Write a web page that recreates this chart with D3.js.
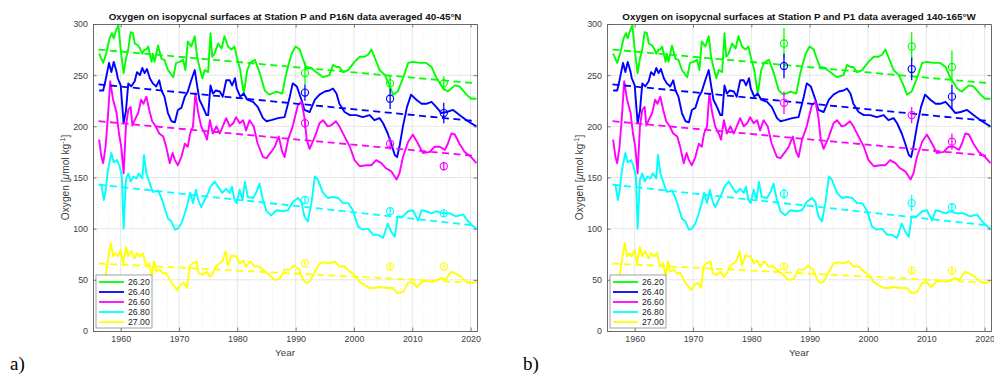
<!DOCTYPE html>
<html>
<head>
<meta charset="utf-8">
<script src="https://cdn.jsdelivr.net/npm/d3@7"></script>
<style>
  body { margin: 0; background: #fff; }
  text { font-family: "Liberation Sans", Arial, sans-serif; }
</style>
</head>
<body>
<svg id="fig" width="994" height="376"></svg>
<script>
// isopycnal surfaces (sigma-theta)
const sigmaLabels = ["26.20", "26.40", "26.60", "26.80", "27.00"];

// Station P time series, [year, oxygen umol/kg]
const o2_2620 = [[1956.3,271],[1957.0,262],[1957.5,271],[1958.1,286],[1958.5,291],[1958.8,286],[1959.1,292],[1959.6,299],[1960.0,275],[1960.5,252],[1960.9,266],[1961.3,275],[1961.7,292],[1962.1,291],[1962.4,281],[1963.0,279],[1963.4,275],[1963.7,271],[1964.1,275],[1964.4,275],[1964.7,278],[1965.3,263],[1965.5,271],[1965.8,263],[1966.4,279],[1967.0,266],[1967.5,265],[1968.1,255],[1969.0,248],[1969.5,262],[1970.1,263],[1970.7,265],[1971.1,255],[1971.5,283],[1972.1,278],[1972.7,288],[1973.1,268],[1973.5,258],[1974.0,247],[1974.4,255],[1975.0,253],[1975.4,291],[1975.7,268],[1976.1,271],[1976.7,281],[1977.3,276],[1977.8,288],[1978.4,278],[1979.0,275],[1979.5,278],[1979.9,268],[1980.5,255],[1981.1,232],[1981.7,255],[1982.2,262],[1983.0,265],[1983.8,253],[1984.7,235],[1985.5,231],[1986.7,234],[1987.7,232],[1988.4,252],[1989.3,271],[1990.0,278],[1990.7,275],[1991.3,265],[1991.8,258],[1992.7,257],[1993.5,253],[1994.7,248],[1995.8,250],[1996.4,260],[1997.0,258],[1997.5,258],[1998.1,253],[1999.0,255],[2000.1,263],[2001.0,268],[2001.8,268],[2002.4,270],[2003.0,275],[2003.5,268],[2004.4,255],[2005.3,250],[2006.1,240],[2006.7,231],[2007.5,234],[2008.4,247],[2009.3,262],[2010.1,263],[2011.3,262],[2012.4,262],[2013.3,258],[2014.1,248],[2015.3,237],[2016.1,234],[2017.3,240],[2018.1,239],[2019.3,231],[2020.1,227],[2021.0,227]];
const o2_2640 = [[1956.3,235],[1957.0,235],[1957.4,245],[1958.0,262],[1958.4,253],[1958.8,263],[1959.3,253],[1959.5,247],[1960.0,240],[1960.5,203],[1960.9,215],[1961.3,242],[1961.8,239],[1962.4,244],[1962.8,253],[1963.3,250],[1963.7,257],[1964.1,252],[1964.5,256],[1965.0,247],[1965.5,242],[1966.1,239],[1966.6,245],[1967.0,235],[1967.5,229],[1968.1,213],[1968.7,205],[1969.3,204],[1969.8,216],[1970.4,218],[1971.0,229],[1971.5,234],[1972.1,245],[1972.7,255],[1973.1,240],[1973.5,226],[1974.1,219],[1974.7,211],[1975.0,211],[1975.4,240],[1975.8,232],[1976.3,235],[1977.0,234],[1977.5,229],[1978.1,245],[1978.7,245],[1979.1,240],[1979.6,247],[1979.9,237],[1980.5,229],[1981.1,232],[1981.7,226],[1982.7,224],[1983.5,219],[1984.4,208],[1985.0,205],[1985.8,206],[1987.0,208],[1988.1,209],[1989.0,229],[1989.5,242],[1990.2,239],[1991.0,226],[1991.5,216],[1992.4,214],[1993.3,226],[1994.1,231],[1995.0,234],[1995.8,235],[1996.4,237],[1997.0,232],[1997.5,222],[1998.4,214],[1999.3,211],[2000.4,211],[2001.5,209],[2002.7,211],[2003.5,206],[2004.4,208],[2005.0,203],[2005.8,193],[2006.4,183],[2007.0,172],[2007.4,170],[2007.8,180],[2008.4,200],[2009.1,219],[2009.8,231],[2010.7,226],[2011.6,222],[2012.4,222],[2013.3,224],[2014.1,219],[2015.0,213],[2015.9,214],[2017.0,216],[2018.1,211],[2019.3,206],[2020.1,203],[2021.0,200]];
const o2_2660 = [[1956.3,187],[1956.7,170],[1957.0,164],[1957.4,180],[1957.8,209],[1958.2,244],[1958.7,226],[1959.3,213],[1959.7,193],[1960.1,180],[1960.5,154],[1960.9,200],[1961.3,216],[1961.7,219],[1962.0,201],[1962.4,206],[1963.0,213],[1963.5,226],[1963.9,222],[1964.4,229],[1964.9,216],[1965.4,205],[1966.0,200],[1966.6,193],[1967.3,190],[1967.8,180],[1968.4,164],[1968.9,174],[1969.3,167],[1969.8,162],[1970.4,170],[1971.0,183],[1971.5,180],[1971.9,193],[1972.4,200],[1972.8,232],[1973.3,213],[1973.8,200],[1974.4,193],[1974.8,187],[1975.3,206],[1975.8,193],[1976.4,200],[1977.0,193],[1977.5,200],[1978.1,208],[1978.7,200],[1979.3,203],[1979.8,209],[1980.4,203],[1981.0,206],[1981.5,196],[1982.1,206],[1982.8,200],[1983.5,183],[1984.4,170],[1985.0,169],[1985.8,175],[1986.4,180],[1987.1,190],[1987.7,175],[1988.1,170],[1988.7,187],[1989.5,200],[1990.4,221],[1991.0,224],[1991.5,209],[1991.9,187],[1992.4,178],[1993.3,190],[1994.1,203],[1994.7,206],[1995.5,200],[1996.1,201],[1996.9,205],[1997.5,200],[1998.4,190],[1999.3,180],[2000.1,167],[2001.0,161],[2002.1,162],[2003.0,162],[2003.8,167],[2004.7,164],[2005.5,159],[2006.4,156],[2007.3,148],[2007.8,154],[2008.4,170],[2009.3,185],[2010.1,192],[2011.0,183],[2011.8,174],[2013.0,175],[2013.8,180],[2014.7,180],[2015.6,177],[2016.1,183],[2016.7,193],[2017.3,192],[2018.1,183],[2019.0,175],[2020.1,170],[2021.0,164]];
const o2_2680 = [[1956.3,143],[1956.7,143],[1957.1,128],[1957.4,136],[1957.8,157],[1958.4,174],[1958.8,165],[1959.4,167],[1959.8,161],[1960.2,151],[1960.5,100],[1960.9,148],[1961.3,154],[1961.7,146],[1962.2,151],[1962.7,149],[1963.1,154],[1963.7,149],[1964.0,172],[1964.4,154],[1965.0,144],[1965.5,136],[1966.4,137],[1967.0,130],[1967.5,121],[1968.1,110],[1968.7,107],[1969.3,99],[1969.8,100],[1970.4,105],[1971.0,115],[1971.5,125],[1971.9,135],[1972.4,125],[1972.9,138],[1973.3,128],[1973.8,121],[1974.4,128],[1975.0,135],[1975.4,141],[1976.1,146],[1976.7,141],[1977.4,135],[1978.1,139],[1978.7,135],[1979.1,141],[1979.5,128],[1979.9,125],[1980.4,138],[1980.9,128],[1981.3,146],[1981.8,131],[1982.7,130],[1983.3,136],[1983.8,144],[1984.4,128],[1985.0,117],[1985.8,113],[1986.7,118],[1987.8,117],[1988.7,118],[1989.5,126],[1990.4,130],[1991.0,126],[1991.5,112],[1992.1,107],[1992.7,125],[1993.3,151],[1993.8,148],[1994.7,135],[1995.5,130],[1996.4,131],[1997.3,130],[1998.1,125],[1999.0,125],[1999.8,118],[2000.7,102],[2001.5,99],[2002.4,100],[2003.3,94],[2004.1,94],[2005.0,91],[2005.8,105],[2006.4,97],[2007.0,92],[2007.5,112],[2008.4,112],[2009.3,117],[2010.1,118],[2011.0,108],[2011.6,118],[2012.4,117],[2013.3,115],[2014.1,117],[2015.3,115],[2016.4,115],[2017.5,112],[2018.7,114],[2019.6,107],[2020.5,102],[2021.0,100]];
const o2_2700 = [[1957.4,53],[1957.8,69],[1958.3,86],[1958.7,73],[1959.1,76],[1959.5,73],[1960.0,79],[1960.4,66],[1960.9,82],[1961.3,73],[1961.8,78],[1962.4,71],[1962.8,76],[1963.3,73],[1963.8,76],[1964.4,63],[1964.9,66],[1965.3,53],[1965.7,68],[1966.1,58],[1966.7,60],[1967.3,56],[1967.8,57],[1968.4,50],[1969.0,45],[1969.7,40],[1970.2,45],[1970.8,47],[1971.4,42],[1971.8,63],[1972.3,66],[1973.0,68],[1973.4,56],[1974.1,55],[1974.7,58],[1975.3,53],[1975.8,56],[1976.4,64],[1977.0,66],[1977.5,69],[1978.0,78],[1978.4,64],[1979.0,74],[1979.5,73],[1979.9,73],[1980.4,66],[1981.0,69],[1981.5,63],[1982.2,68],[1983.0,63],[1983.8,63],[1984.7,58],[1985.3,56],[1985.8,53],[1986.4,50],[1987.3,51],[1988.1,60],[1989.0,60],[1989.8,64],[1990.6,60],[1991.3,50],[1991.8,47],[1992.4,48],[1993.3,58],[1994.1,66],[1995.0,67],[1995.8,66],[1996.7,68],[1997.5,63],[1998.4,63],[1999.3,58],[2000.1,55],[2001.0,48],[2001.8,45],[2002.7,42],[2003.5,42],[2004.4,43],[2005.5,42],[2006.7,42],[2007.5,37],[2008.4,38],[2009.3,47],[2010.0,48],[2010.8,43],[2011.7,48],[2012.6,49],[2013.4,48],[2014.3,50],[2015.0,52],[2015.7,50],[2016.6,58],[2017.4,56],[2018.3,53],[2019.3,48],[2020.1,47],[2021.0,48]];
const stationP = [o2_2620, o2_2640, o2_2660, o2_2680, o2_2700];

// linear trends (dashed), value at start and end year
const trendYears = [1956.2, 2021.0];
const trendStart = [275, 241, 205, 143, 66];
const trendEnd = [242, 205, 171, 103, 47];

// section data, one row per occupation, columns follow sigmaLabels
const p16nYears = [1991.6, 2006.2, 2015.4];
const p16nO2 = [[252, 233, 203, 128, 66], [242, 227, 183, 117, 63], [242, 213, 161, 115, 63]];
const p16nErr = [[11, 8, 5, 4, 2], [8, 10, 6, 4, 3], [7, 10, 4, 3, 2]];
const p1Years = [1985.6, 2007.5, 2014.4];
const p1O2 = [[281, 259, 223, 134, 63], [278, 256, 211, 125, 59], [258, 229, 185, 121, 59]];
const p1Err = [[15, 12, 11, 5, 3], [14, 11, 8, 8, 4], [16, 12, 8, 4, 4]];

const colours = ["#00ff00", "#0000ff", "#ff00ff", "#00ffff", "#ffff00"];

const svg = d3.select("#fig");
const marginTop = 24, w = 384, h = 307;

function drawPanel(p) {
  const g = svg.append("g").attr("transform", "translate(" + p.left + "," + marginTop + ")");
  const x = d3.scaleLinear().domain([1955.25, 2021.1]).range([0, w]);
  const y = d3.scaleLinear().domain([0, 300]).range([h, 0]);

  g.append("rect").attr("width", w).attr("height", h).attr("fill", "#fff");

  // minor grid, every 2 years
  g.append("g").selectAll("line")
    .data(d3.range(1956, 2022, 2).filter(d => d % 10 != 0))
    .enter().append("line")
    .attr("x1", d => x(d)).attr("x2", d => x(d))
    .attr("y1", 0).attr("y2", h)
    .attr("stroke", "#e2e2e2").attr("stroke-width", 0.7)
    .attr("stroke-dasharray", "1,2");

  // major grid
  g.append("g").selectAll("line")
    .data(d3.range(1960, 2021, 10))
    .enter().append("line")
    .attr("x1", d => x(d)).attr("x2", d => x(d))
    .attr("y1", 0).attr("y2", h)
    .attr("stroke", "#e0e0e0").attr("stroke-width", 0.8);
  g.append("g").selectAll("line")
    .data(d3.range(50, 300, 50))
    .enter().append("line")
    .attr("x1", 0).attr("x2", w)
    .attr("y1", d => y(d)).attr("y2", d => y(d))
    .attr("stroke", "#e0e0e0").attr("stroke-width", 0.8);

  const line = d3.line().x(d => x(d[0])).y(d => y(d[1]));

  g.append("g").selectAll("path")
    .data(stationP)
    .enter().append("path")
    .attr("d", line)
    .attr("fill", "none")
    .attr("stroke", (d, i) => colours[i])
    .attr("stroke-width", 1.9)
    .attr("stroke-linejoin", "round");

  g.append("g").selectAll("line")
    .data(sigmaLabels)
    .enter().append("line")
    .attr("x1", x(trendYears[0])).attr("x2", x(trendYears[1]))
    .attr("y1", (d, i) => y(trendStart[i]))
    .attr("y2", (d, i) => y(trendEnd[i]))
    .attr("stroke", (d, i) => colours[i])
    .attr("stroke-width", 1.8)
    .attr("stroke-dasharray", "7,4.5");

  // section occupations with error bars
  p.years.forEach(function (yr, k) {
    const eg = g.append("g");
    sigmaLabels.forEach(function (s, i) {
      const v = p.o2[k][i], e = p.err[k][i];
      eg.append("line")
        .attr("x1", x(yr)).attr("x2", x(yr))
        .attr("y1", y(v - e)).attr("y2", y(v + e))
        .attr("stroke", colours[i]).attr("stroke-width", 1.3);
      eg.append("circle")
        .attr("cx", x(yr)).attr("cy", y(v)).attr("r", 3.6)
        .attr("fill", "none")
        .attr("stroke", colours[i]).attr("stroke-width", 1.1);
    });
  });

  // axes, ticks pointing inwards, box on
  const fmt = d3.format("d");
  const xb = g.append("g").attr("transform", "translate(0," + h + ")")
    .call(d3.axisBottom(x).tickValues(d3.range(1960, 2021, 10)).tickFormat(fmt)
      .tickSize(-3.5).tickSizeOuter(0).tickPadding(5));
  const xt = g.append("g")
    .call(d3.axisTop(x).tickValues(d3.range(1960, 2021, 10)).tickFormat("")
      .tickSize(-3.5).tickSizeOuter(0));
  const yl = g.append("g")
    .call(d3.axisLeft(y).tickValues(d3.range(0, 301, 50)).tickFormat(fmt)
      .tickSize(-3.5).tickSizeOuter(0).tickPadding(5));
  const yr = g.append("g").attr("transform", "translate(" + w + ",0)")
    .call(d3.axisRight(y).tickValues(d3.range(0, 301, 50)).tickFormat("")
      .tickSize(-3.5).tickSizeOuter(0));
  [xb, xt, yl, yr].forEach(function (a) {
    a.select(".domain").attr("stroke", "#5a5a5a").attr("stroke-width", 0.9);
    a.selectAll(".tick line").attr("stroke", "#5a5a5a").attr("stroke-width", 0.8);
    a.selectAll(".tick text").attr("fill", "#404040")
      .style("font-size", "8.9px")
      .style("font-family", "'Liberation Sans', Arial, sans-serif");
  });

  // legend
  const lg = g.append("g").attr("transform", "translate(3,251)");
  lg.append("rect").attr("width", 56).attr("height", 53)
    .attr("fill", "#fff").attr("stroke", "#8a8a8a").attr("stroke-width", 0.8);
  sigmaLabels.forEach(function (s, i) {
    const ry = 7 + i * 10;
    lg.append("line").attr("x1", 3).attr("x2", 28).attr("y1", ry).attr("y2", ry)
      .attr("stroke", colours[i]).attr("stroke-width", 1.8);
    lg.append("text").attr("x", 32).attr("y", ry + 3)
      .attr("font-size", "8.7px").attr("fill", "#222").text(s);
  });

  g.append("text")
    .attr("x", w / 2).attr("y", -4)
    .attr("text-anchor", "middle")
    .attr("font-size", "9.8px").attr("font-weight", "bold").attr("fill", "#111")
    .text(p.title);

  g.append("text")
    .attr("x", w / 2).attr("y", h + 25)
    .attr("text-anchor", "middle")
    .attr("font-size", "9.8px").attr("fill", "#404040")
    .text("Year");

  const yt = g.append("text")
    .attr("transform", "translate(-24," + (h / 2) + ") rotate(-90)")
    .attr("text-anchor", "middle")
    .attr("font-size", "10.2px").attr("fill", "#404040");
  yt.append("tspan").text("Oxygen [");
  yt.append("tspan").attr("font-style", "italic").text("\u03bc");
  yt.append("tspan").text("mol kg");
  yt.append("tspan").attr("font-size", "7px").attr("dy", "-3.8").text("-1");
  yt.append("tspan").attr("dy", "3.8").text("]");

  svg.append("text")
    .attr("x", p.labelX).attr("y", 370)
    .style("font-family", "'Liberation Serif', 'Times New Roman', serif")
    .attr("font-size", "19px").attr("fill", "#000")
    .text(p.label);
}

drawPanel({
  left: 93, labelX: 10, label: "a)",
  title: "Oxygen on isopycnal surfaces at Station P and P16N data averaged 40-45\u00b0N",
  years: p16nYears, o2: p16nO2, err: p16nErr
});
drawPanel({
  left: 607, labelX: 523, label: "b)",
  title: "Oxygen on isopycnal surfaces at Station P and P1 data averaged 140-165\u00b0W",
  years: p1Years, o2: p1O2, err: p1Err
});
</script>
</body>
</html>
